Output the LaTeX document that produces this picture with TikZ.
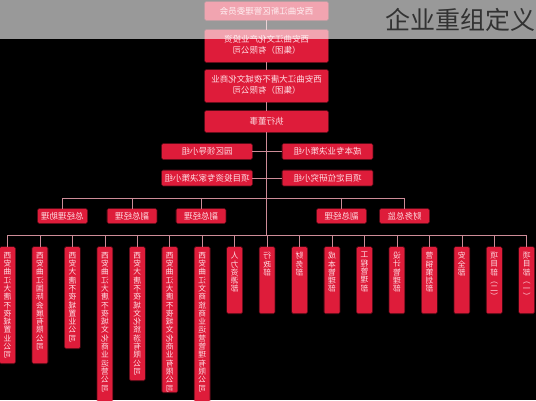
\documentclass[tikz,border=0pt]{standalone}
\usepackage{fontspec}
\newfontfamily\cjk{Noto Sans CJK SC}
\definecolor{boxred}{RGB}{222,28,58}
\definecolor{txtpink}{RGB}{255,222,228}
\definecolor{linepink}{RGB}{205,140,152}
\definecolor{titlegray}{RGB}{50,50,50}
\makeatletter
\def\vcharsend{\vcharsend}
\newcommand\vchars[1]{\vc@aux#1\vcharsend}
\def\vc@aux#1{\ifx#1\vcharsend\else\hbox to\hsize{\hss\reflectbox{#1}\hss}\expandafter\vc@aux\fi}
\makeatother
\tikzset{
  box/.style={fill=boxred, rounded corners=1.2pt, inner sep=0pt, text=txtpink,
    font=\cjk\fontsize{8.5}{11}\selectfont,
    preaction={draw=boxred, draw opacity=0.4, line width=1.6pt}},
  topbox/.style={box, minimum width=123pt},
  cmtbox/.style={box, minimum width=90pt, minimum height=15pt},
  mgrbox/.style={box, minimum width=49pt, minimum height=14pt},
  vbox/.style={box, minimum width=15pt, anchor=north},
  conn/.style={draw=linepink, line width=0.6pt},
}
\begin{document}
\begin{tikzpicture}[x=1pt,y=-1pt]
\useasboundingbox (0,0) rectangle (536,400);
\clip (0,0) rectangle (536,400);
\fill[black] (0,0) rectangle (536,400);

% top chain
\node[topbox, minimum height=18pt] (gov) at (266.5,11) {\reflectbox{西安曲江新区管理委员会}};
\node[topbox, minimum height=32pt] (inv) at (266.5,46) {\reflectbox{\begin{tabular}{@{}c@{}}西安曲江文化产业投资\\（集团）有限公司\end{tabular}}};
\node[topbox, minimum height=32pt] (dt) at (266.5,86) {\reflectbox{\begin{tabular}{@{}c@{}}西安曲江大唐不夜城文化商业\\（集团）有限公司\end{tabular}}};
\node[topbox, minimum height=21pt] (exec) at (266.5,121.5) {\reflectbox{执行董事}};

% committees
\node[cmtbox] (c1) at (207,151.5) {\reflectbox{园区领导小组}};
\node[cmtbox] (c2) at (327.5,151.5) {\reflectbox{成本专业决策小组}};
\node[cmtbox] (c3) at (207,178) {\reflectbox{项目投资专家决策小组}};
\node[cmtbox] (c4) at (327.5,178) {\reflectbox{项目定位研究小组}};

% managers
\node[mgrbox] (m1) at (62.5,216) {\reflectbox{总经理助理}};
\node[mgrbox] (m2) at (132,216) {\reflectbox{副总经理}};
\node[mgrbox] (m3) at (201,216) {\reflectbox{副总经理}};
\node[mgrbox] (m4) at (341.5,216) {\reflectbox{副总经理}};
\node[mgrbox] (m5) at (404.5,216) {\reflectbox{财务总监}};

% departments / companies
\foreach \i/\hh/\lab in {
  0/116/西安曲江大唐不夜城置业公司,
  1/116/西安曲江国际会展有限公司,
  2/101/西安大唐不夜城置业公司,
  3/165/西安曲江大唐不夜城文化商业运营公司,
  4/133/西安大唐不夜城文化旅游有限公司,
  5/145/西安曲江大唐不夜城文化商业有限公司,
  6/165/西安曲江文商旅商业运营管理有限公司,
  7/66/人力资源部,
  8/66/行政部,
  9/66/财务部,
  10/66/成本管理部,
  11/66/工程管理部,
  12/66/设计管理部,
  13/66/营销策划部,
  14/66/安全部,
  15/66/项目部︵二︶,
  16/66/项目部︵一︶}{
  \node[vbox, minimum height=\hh pt] (b\i) at ({7.5+32.45*\i},247)
    {\parbox[c][\hh pt][t]{15pt}{\fontsize{7.8}{8.3}\selectfont\lineskiplimit=-20pt\vskip5pt\expandafter\vchars\expandafter{\lab}}};
}

% connectors
\coordinate (busy) at (0,235);
\coordinate (mbus) at (0,198);
\draw[conn] (gov.south) -- (inv.north);
\draw[conn] (inv.south) -- (dt.north);
\draw[conn] (dt.south) -- (exec.north);
\draw[conn] (exec.south) -- (exec.south |- busy);
\draw[conn] (c1.east) -- (c2.west);
\draw[conn] (c3.east) -- (c4.west);
\draw[conn] (m1.north |- mbus) -- (m5.north |- mbus);
\foreach \m in {m1,m2,m3,m4,m5}{\draw[conn] (\m.north |- mbus) -- (\m.north);}
\draw[conn] (b0.north |- busy) -- (b16.north |- busy);
\foreach \i in {0,...,16}{\draw[conn] (b\i.north |- busy) -- (b\i.north);}

% banner overlay
\fill[white, opacity=0.6] (0,0) rectangle (536,39);
\node[anchor=east, inner sep=0pt, text=titlegray, font=\cjk\fontsize{25}{25}\selectfont] (title) at (536,20) {企业重组定义};
\end{tikzpicture}
\end{document}
